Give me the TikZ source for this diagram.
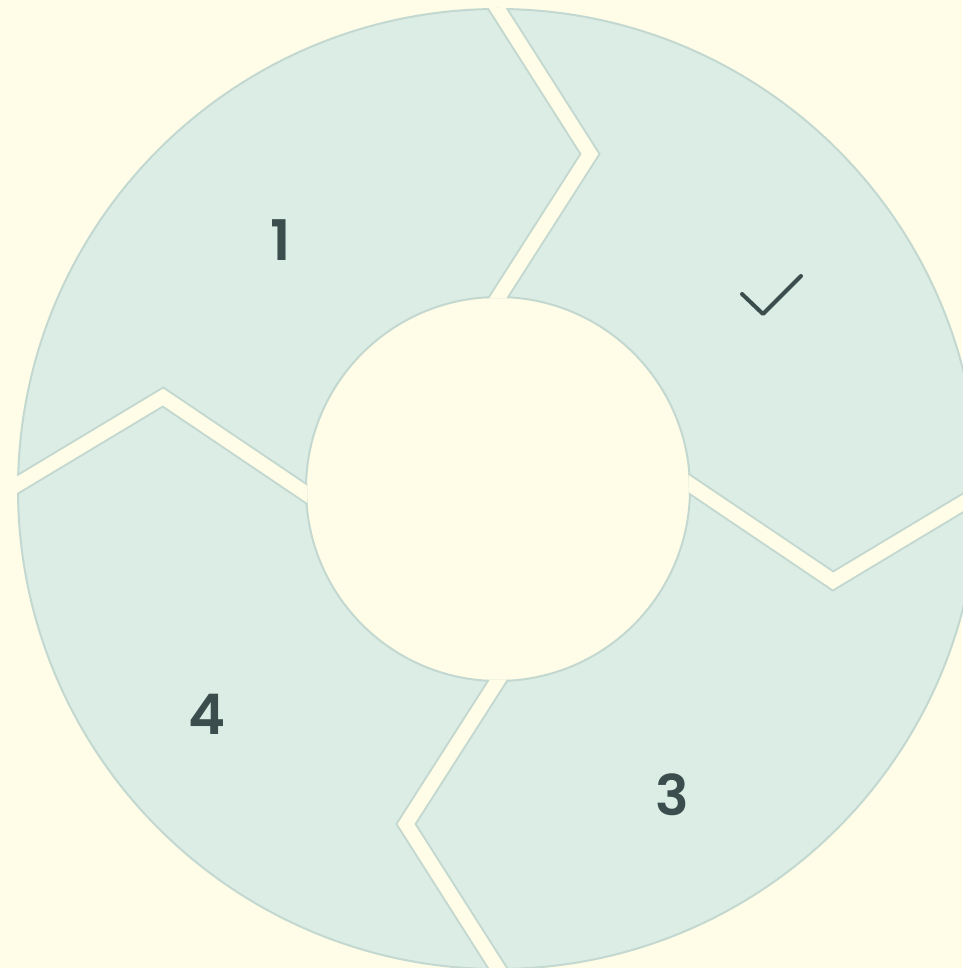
\documentclass[tikz,border=0pt]{standalone}
\usepackage{fontspec}
\setmainfont{Poppins}[BoldFont={Poppins SemiBold}]
\definecolor{bgc}{HTML}{FFFDE7}
\definecolor{segfill}{HTML}{DCEDE5}
\definecolor{segline}{HTML}{C3D8D0}
\definecolor{ink}{HTML}{3B4D4D}
\tikzset{
  gapborder/.style={draw=segline, line width=18pt, line join=miter, miter limit=10},
  gapcore/.style={draw=bgc, line width=14pt, line join=miter, miter limit=10},
  numlabel/.style={text=ink, font=\fontsize{56}{60}\selectfont\bfseries, inner sep=0pt}
}
\begin{document}
\begin{tikzpicture}[x=1pt,y=-1pt]
\useasboundingbox (0,0) rectangle (962,968);
\fill[bgc] (0,0) rectangle (962,968);
\coordinate (C) at (498,489);
% ring
\path[fill=segfill, even odd rule] (C) circle[radius=480] (C) circle[radius=192];
\draw[segline, line width=2pt] (C) circle[radius=480];
\draw[segline, line width=2pt] (C) circle[radius=192];
% gaps
\begin{scope}[even odd rule]
\clip (C) circle[radius=481] (C) circle[radius=191];
% top gap
\coordinate (tV) at (590,154);
\coordinate (tO) at (480,-19);
\coordinate (tI) at (480,326);
% right gap
\coordinate (rV) at (833,581);
\coordinate (rO) at (1016,471);
\coordinate (rI) at (670,471);
% bottom gap
\coordinate (bV) at (406,824);
\coordinate (bO) at (516,997);
\coordinate (bI) at (516,652);
% left gap
\coordinate (lV) at (163,397);
\coordinate (lO) at (-20,507);
\coordinate (lI) at (326,507);
\foreach \g in {t,r,b,l}{
  \draw[gapborder] (\g O) -- (\g V) -- (\g I);
}
\foreach \g in {t,r,b,l}{
  \draw[gapcore] (\g O) -- (\g V) -- (\g I);
}
\end{scope}
% labels
\node[numlabel] (n1) at (281,240) {1};
\node[numlabel] (n4) at (207,714) {4};
\node[numlabel] (n3) at (672,795) {3};
% check mark
\coordinate (ckA) at (742,294);
\coordinate (ckB) at (763,314);
\coordinate (ckC) at (801,276);
\draw[ink, line width=4pt, line cap=round, line join=round] (ckA) -- (ckB) -- (ckC);
\end{tikzpicture}
\end{document}
